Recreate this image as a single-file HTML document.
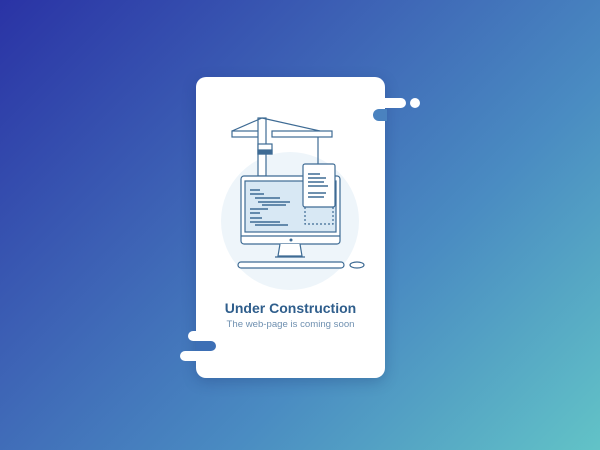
<!DOCTYPE html>
<html><head><style>
html,body{margin:0;padding:0}
body{width:600px;height:450px;overflow:hidden;position:relative;background:linear-gradient(135deg,#2a33a5 0%,#3d62b5 35%,#4a8cc2 65%,#62c3c7 100%);font-family:"Liberation Sans",sans-serif}
.card{position:absolute;left:196px;top:77px;width:189px;height:301px;background:#fff;border-radius:10px;box-shadow:0 4px 14px rgba(20,40,100,.25)}
.w{position:absolute;background:#fff;border-radius:6px}
.d{position:absolute;background:#3f78b8;border-radius:6px}
.t1{position:absolute;left:196px;width:189px;top:300px;text-align:center;font-weight:bold;font-size:14px;color:#2f5e8c}
.t2{position:absolute;left:196px;width:189px;top:319px;text-align:center;font-size:9.6px;color:#6f90b0}
</style></head><body>
<div class="card"></div>
<div class="w" style="left:370px;top:98px;width:36px;height:10px;border-radius:5px"></div>
<div class="w" style="left:410px;top:98px;width:10px;height:10px;border-radius:5px"></div>
<div class="d" style="left:373px;top:109px;width:14px;height:12px;background:#4a82bf;border-radius:6px 0 0 6px"></div>
<div class="w" style="left:188px;top:331px;width:20px;height:10px;border-radius:5px"></div>
<div class="d" style="left:196px;top:341px;width:20px;height:10px;background:#3d6fb5;border-radius:0 5px 5px 0"></div>
<div class="w" style="left:180px;top:351px;width:30px;height:10px;border-radius:5px"></div>
<svg style="position:absolute;left:0;top:0" width="600" height="450">
<circle cx="290" cy="221" r="69" fill="#eef5fa"/>
<g stroke="#3e6b94" stroke-width="1.2" fill="none">
<rect x="232" y="131" width="30" height="6" fill="#fff"/>
<rect x="272" y="131" width="60" height="6" fill="#fff"/>
<rect x="258" y="118" width="8" height="58" fill="#fff"/>
<line x1="262" y1="118" x2="232" y2="131"/><line x1="262" y1="118" x2="320" y2="131"/>
<line x1="318" y1="137" x2="318" y2="164"/>
<rect x="258" y="144" width="14" height="10" fill="#fff"/>
<rect x="258" y="150" width="14" height="4" fill="#3e6b94"/>
<rect x="241" y="176" width="99" height="68" rx="3" fill="#fff"/>
<rect x="245" y="181" width="91" height="51" fill="#d8e8f4"/>
<line x1="241" y1="236" x2="340" y2="236"/>
<path d="M280 244 L278 256 L302 256 L300 244" fill="#fff"/>
<line x1="275" y1="257" x2="305" y2="257"/>
<rect x="238" y="262" width="106" height="6" rx="3" fill="#fff"/>
<ellipse cx="357" cy="265" rx="7" ry="3" fill="#fff"/>
<rect x="303" y="164" width="32" height="43" rx="2" fill="#fff"/>
<path d="M305 207 L305 224 L333 224 L333 207" stroke-dasharray="2 2"/>
</g>
<g stroke="#3e6b94" stroke-width="1.5">
<line x1="250" y1="190" x2="260" y2="190"/><line x1="250" y1="194" x2="264" y2="194"/>
<line x1="255" y1="198" x2="280" y2="198"/><line x1="258" y1="202" x2="290" y2="202"/>
<line x1="262" y1="205" x2="286" y2="205"/><line x1="250" y1="209" x2="268" y2="209"/>
<line x1="250" y1="213" x2="260" y2="213"/><line x1="250" y1="218" x2="262" y2="218"/>
<line x1="250" y1="222" x2="280" y2="222"/><line x1="255" y1="225" x2="288" y2="225"/>
<line x1="308" y1="174" x2="320" y2="174"/><line x1="308" y1="178" x2="326" y2="178"/>
<line x1="308" y1="182" x2="324" y2="182"/><line x1="308" y1="186" x2="328" y2="186"/>
<line x1="308" y1="193" x2="326" y2="193"/><line x1="308" y1="197" x2="324" y2="197"/>
</g>
<circle cx="291" cy="240" r="1.5" fill="#3e6b94"/>
</svg>
<div class="t1">Under Construction</div>
<div class="t2">The web-page is coming soon</div>
</body></html>
